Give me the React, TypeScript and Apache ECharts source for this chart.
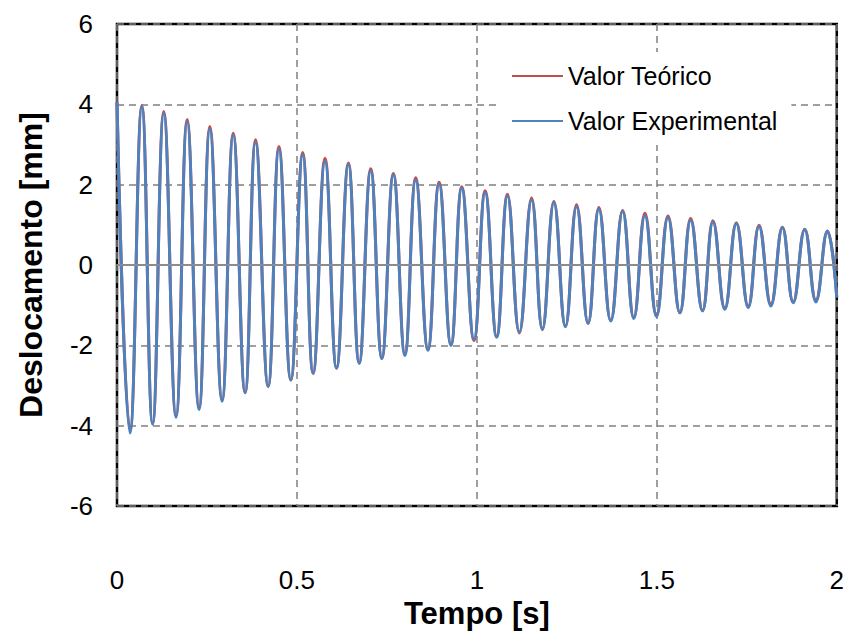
import React, { useEffect, useRef } from "react";
import * as echarts from "echarts";

// Time of each extremum (s)
const times = [
  0.0, 0.036, 0.069, 0.099, 0.13, 0.164, 0.195, 0.228, 0.258, 0.292, 0.323, 0.356,
  0.385, 0.42, 0.45, 0.483, 0.516, 0.545, 0.578, 0.61, 0.643, 0.673, 0.705, 0.736,
  0.768, 0.8, 0.83, 0.864, 0.895, 0.928, 0.958, 0.992, 1.023, 1.055, 1.085, 1.118,
  1.152, 1.182, 1.214, 1.246, 1.277, 1.309, 1.339, 1.372, 1.405, 1.436, 1.467, 1.499,
  1.531, 1.564, 1.594, 1.627, 1.656, 1.689, 1.721, 1.754, 1.784, 1.817, 1.849, 1.879,
  1.911, 1.942, 1.974, 2.0,
];

// Valor Experimental (mm)
const experimental = [
  4.05, -4.18, 3.94, -3.96, 3.77, -3.79, 3.56, -3.6, 3.38, -3.39, 3.23, -3.18,
  3.05, -3.02, 2.88, -2.86, 2.74, -2.69, 2.58, -2.57, 2.5, -2.45, 2.34, -2.33,
  2.24, -2.25, 2.11, -2.12, 2.01, -2.0, 1.91, -1.84, 1.8, -1.8, 1.72, -1.67,
  1.61, -1.59, 1.56, -1.53, 1.45, -1.45, 1.39, -1.39, 1.33, -1.33, 1.23, -1.28,
  1.18, -1.18, 1.11, -1.14, 1.07, -1.1, 1.03, -1.06, 0.96, -1.02, 0.93, -0.94,
  0.88, -0.92, 0.84, -0.81,
];

// Valor Teórico (mm)
const theoretical = [
  4.05, -4.12, 3.97, -3.95, 3.82, -3.74, 3.62, -3.55, 3.45, -3.35, 3.28, -3.18,
  3.12, -3.02, 2.95, -2.86, 2.8, -2.7, 2.66, -2.56, 2.54, -2.43, 2.4, -2.31,
  2.28, -2.2, 2.17, -2.09, 2.06, -1.98, 1.95, -1.88, 1.85, -1.78, 1.76, -1.69,
  1.67, -1.61, 1.58, -1.53, 1.5, -1.45, 1.43, -1.38, 1.36, -1.31, 1.29, -1.25,
  1.22, -1.19, 1.16, -1.13, 1.1, -1.07, 1.05, -1.02, 0.99, -0.97, 0.94, -0.92,
  0.89, -0.87, 0.85, -0.8,
];

const seriesNames = ["Valor Teórico", "Valor Experimental"];
const FONT = "Arial, 'Liberation Sans', sans-serif";

export default function App() {
  const ref = useRef<HTMLDivElement>(null);
  useEffect(() => {
    if (!ref.current) return;
    const chart = echarts.init(ref.current, undefined, { renderer: "svg" });
    const teo = times.map((t, i) => [t, theoretical[i]]);
    const exp = times.map((t, i) => [t, experimental[i]]);
    chart.setOption({
      animation: false,
      backgroundColor: "#ffffff",
      grid: {
        left: 117,
        right: 10,
        top: 24,
        bottom: 121,
        show: true,
        borderColor: "#000000",
        borderWidth: 2.5,
        backgroundColor: "transparent",
      },
      legend: {
        data: seriesNames.map((n) => ({ name: n })),
        orient: "vertical",
        left: 500,
        top: 52,
        padding: [11, 14, 11, 12],
        itemGap: 19,
        itemWidth: 51,
        itemHeight: 2,
        icon: "rect",
        backgroundColor: "#ffffff",
        textStyle: { fontFamily: FONT, fontSize: 25, color: "#000", lineHeight: 26, padding: [0, 0, 0, 0] },
      },
      xAxis: {
        type: "value",
        min: 0,
        max: 2,
        interval: 0.5,
        name: "Tempo [s]",
        nameLocation: "middle",
        nameGap: 83,
        nameTextStyle: { fontFamily: FONT, fontSize: 31, fontWeight: "bold", color: "#000" },
        axisLine: { show: false },
        axisTick: { show: false },
        axisLabel: { fontFamily: FONT, fontSize: 26, color: "#000", margin: 61 },
        splitLine: { show: true, lineStyle: { color: "#808080", type: [7, 5], width: 1.5 } },
      },
      yAxis: {
        type: "value",
        min: -6,
        max: 6,
        interval: 2,
        name: "Deslocamento [mm]",
        nameLocation: "middle",
        nameGap: 70,
        nameTextStyle: { fontFamily: FONT, fontSize: 32, fontWeight: "bold", color: "#000" },
        axisLine: { show: false },
        axisTick: { show: false },
        axisLabel: { fontFamily: FONT, fontSize: 26, color: "#000", margin: 24 },
        splitLine: { show: true, lineStyle: { color: "#808080", type: [7, 5], width: 1.5 } },
      },
      series: [
        {
          name: seriesNames[0],
          type: "line",
          data: teo,
          showSymbol: false,
          smooth: 0.45,
          lineStyle: { color: "#C0504D", width: 3 },
          itemStyle: { color: "#C0504D" },
          markLine: {
            silent: true,
            symbol: "none",
            label: { show: false },
            lineStyle: { color: "#8c8c8c", type: "solid", width: 2 },
            data: [{ yAxis: 0 }],
          },
          z: 2,
        },
        {
          name: seriesNames[1],
          type: "line",
          data: exp,
          showSymbol: false,
          smooth: 0.45,
          lineStyle: { color: "#4F81BD", width: 3 },
          itemStyle: { color: "#4F81BD" },
          z: 3,
        },
      ],
    });
    return () => chart.dispose();
  }, []);
  return <div ref={ref} style={{ width: 847, height: 634, position: "absolute", left: 0, top: 0 }} />;
}
